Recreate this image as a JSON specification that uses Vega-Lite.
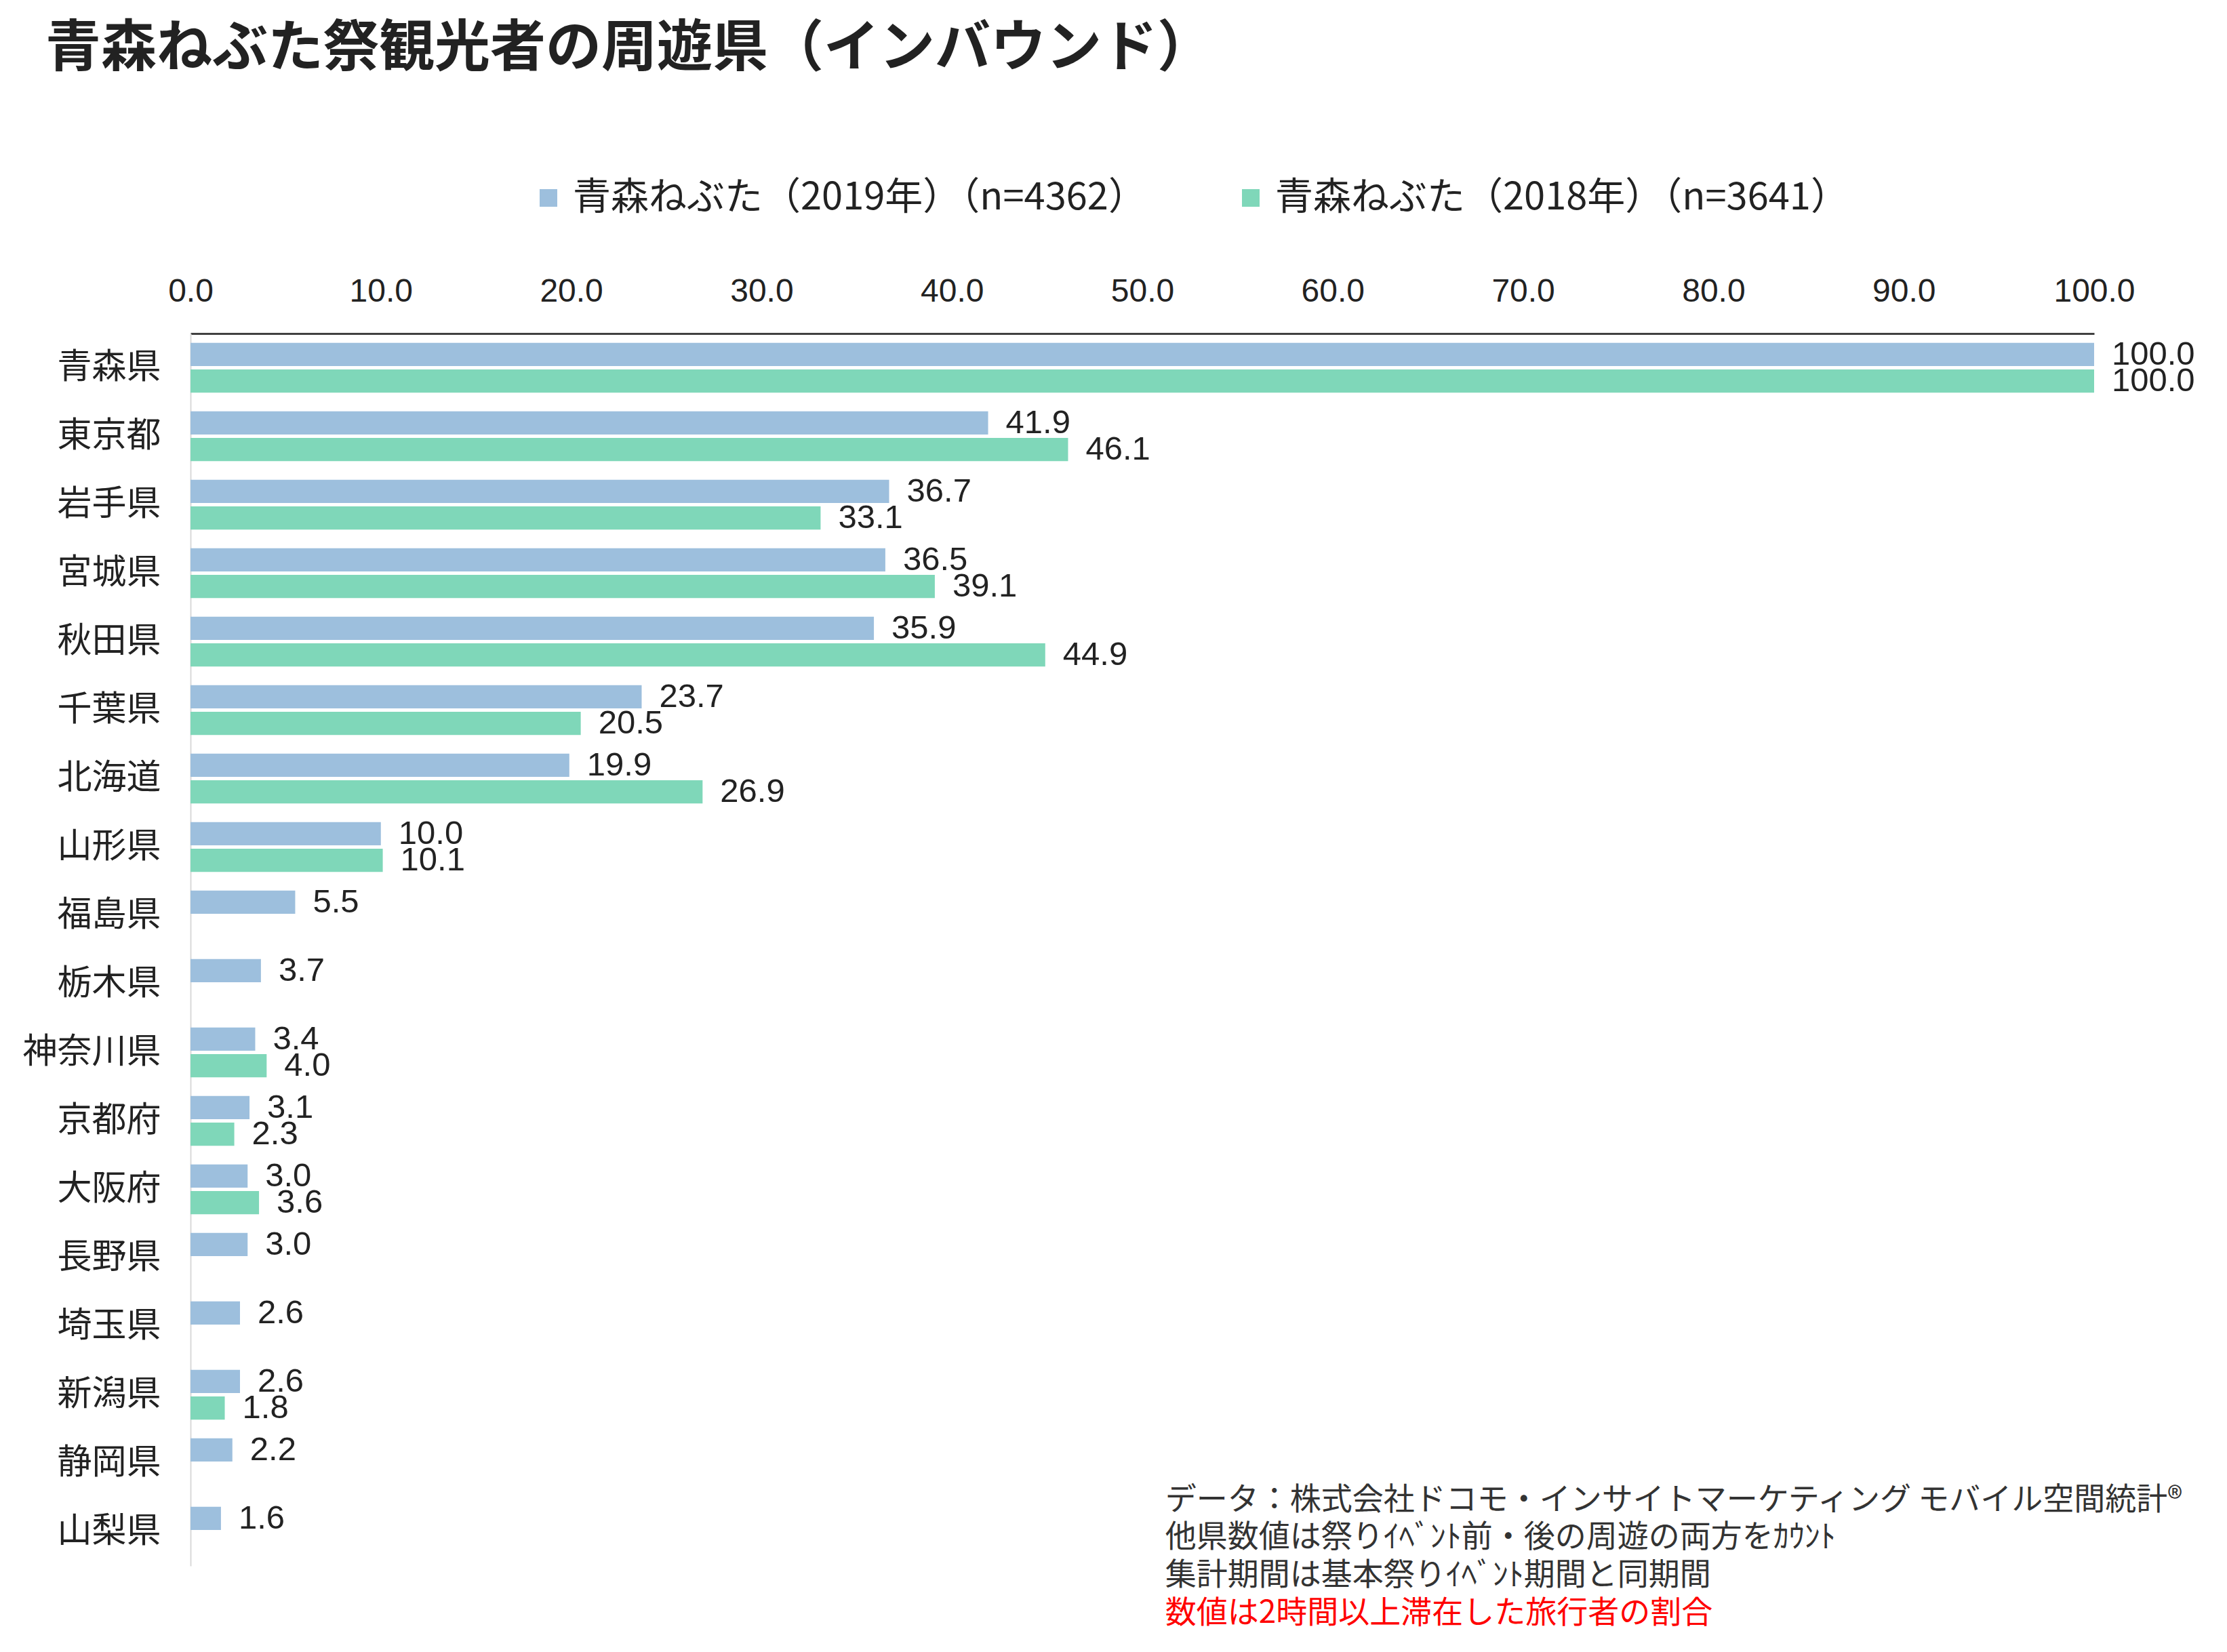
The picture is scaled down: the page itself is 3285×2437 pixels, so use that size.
{
  "$schema": "https://vega.github.io/schema/vega-lite/v6.json",
  "autosize": {"type": "none"},
  "width": 2808,
  "height": 1818,
  "padding": {"left": 281, "top": 492, "right": 196, "bottom": 127},
  "background": "white",
  "title": {
    "text": "青森ねぶた祭観光者の周遊県（インバウンド）",
    "anchor": "start",
    "frame": "group",
    "dx": -214,
    "offset": 150,
    "font": "Noto Sans CJK JP",
    "fontSize": 82,
    "fontWeight": "bold",
    "color": "#222222"
  },
  "config": {"view": {"stroke": null}, "axis": {"grid": false}},
  "datasets": {
    "bars": [
      {"pref": "青森県", "series": "青森ねぶた（2019年）（n=4362）", "value": 100.0},
      {"pref": "青森県", "series": "青森ねぶた（2018年）（n=3641）", "value": 100.0},
      {"pref": "東京都", "series": "青森ねぶた（2019年）（n=4362）", "value": 41.9},
      {"pref": "東京都", "series": "青森ねぶた（2018年）（n=3641）", "value": 46.1},
      {"pref": "岩手県", "series": "青森ねぶた（2019年）（n=4362）", "value": 36.7},
      {"pref": "岩手県", "series": "青森ねぶた（2018年）（n=3641）", "value": 33.1},
      {"pref": "宮城県", "series": "青森ねぶた（2019年）（n=4362）", "value": 36.5},
      {"pref": "宮城県", "series": "青森ねぶた（2018年）（n=3641）", "value": 39.1},
      {"pref": "秋田県", "series": "青森ねぶた（2019年）（n=4362）", "value": 35.9},
      {"pref": "秋田県", "series": "青森ねぶた（2018年）（n=3641）", "value": 44.9},
      {"pref": "千葉県", "series": "青森ねぶた（2019年）（n=4362）", "value": 23.7},
      {"pref": "千葉県", "series": "青森ねぶた（2018年）（n=3641）", "value": 20.5},
      {"pref": "北海道", "series": "青森ねぶた（2019年）（n=4362）", "value": 19.9},
      {"pref": "北海道", "series": "青森ねぶた（2018年）（n=3641）", "value": 26.9},
      {"pref": "山形県", "series": "青森ねぶた（2019年）（n=4362）", "value": 10.0},
      {"pref": "山形県", "series": "青森ねぶた（2018年）（n=3641）", "value": 10.1},
      {"pref": "福島県", "series": "青森ねぶた（2019年）（n=4362）", "value": 5.5},
      {"pref": "栃木県", "series": "青森ねぶた（2019年）（n=4362）", "value": 3.7},
      {"pref": "神奈川県", "series": "青森ねぶた（2019年）（n=4362）", "value": 3.4},
      {"pref": "神奈川県", "series": "青森ねぶた（2018年）（n=3641）", "value": 4.0},
      {"pref": "京都府", "series": "青森ねぶた（2019年）（n=4362）", "value": 3.1},
      {"pref": "京都府", "series": "青森ねぶた（2018年）（n=3641）", "value": 2.3},
      {"pref": "大阪府", "series": "青森ねぶた（2019年）（n=4362）", "value": 3.0},
      {"pref": "大阪府", "series": "青森ねぶた（2018年）（n=3641）", "value": 3.6},
      {"pref": "長野県", "series": "青森ねぶた（2019年）（n=4362）", "value": 3.0},
      {"pref": "埼玉県", "series": "青森ねぶた（2019年）（n=4362）", "value": 2.6},
      {"pref": "新潟県", "series": "青森ねぶた（2019年）（n=4362）", "value": 2.6},
      {"pref": "新潟県", "series": "青森ねぶた（2018年）（n=3641）", "value": 1.8},
      {"pref": "静岡県", "series": "青森ねぶた（2019年）（n=4362）", "value": 2.2},
      {"pref": "山梨県", "series": "青森ねぶた（2019年）（n=4362）", "value": 1.6}
    ],
    "notesGray": [
      {"text": "データ：株式会社ドコモ・インサイトマーケティング モバイル空間統計®\n他県数値は祭りｲﾍﾞﾝﾄ前・後の周遊の両方をｶｳﾝﾄ\n集計期間は基本祭りｲﾍﾞﾝﾄ期間と同期間"}
    ],
    "notesRed": [
      {"text": "数値は2時間以上滞在した旅行者の割合"}
    ]
  },
  "layer": [
    {
      "data": {"name": "bars"},
      "mark": {"type": "bar"},
      "encoding": {
        "y": {
          "field": "pref", "type": "nominal",
          "sort": ["青森県","東京都","岩手県","宮城県","秋田県","千葉県","北海道","山形県","福島県","栃木県","神奈川県","京都府","大阪府","長野県","埼玉県","新潟県","静岡県","山梨県"],
          "scale": {"paddingInner": 0.27, "paddingOuter": 0.135},
          "axis": {
            "title": null, "ticks": false, "domainColor": "#d9d9d9", "domainWidth": 2,
            "labelFont": "Noto Sans CJK JP", "labelFontSize": 51, "labelColor": "#222222", "labelPadding": 44, "labelLimit": 1000
          }
        },
        "x": {
          "field": "value", "type": "quantitative",
          "scale": {"domain": [0, 100], "nice": false},
          "axis": {
            "orient": "top", "title": null, "values": [0,10,20,30,40,50,60,70,80,90,100], "format": ".1f",
            "ticks": false, "domainColor": "#404040", "domainWidth": 3,
            "labelFont": "Liberation Sans", "labelFontSize": 48, "labelColor": "#222222", "labelPadding": 38, "labelFlush": false
          }
        },
        "yOffset": {
          "field": "series", "type": "nominal",
          "sort": ["青森ねぶた（2019年）（n=4362）", "青森ねぶた（2018年）（n=3641）"],
          "scale": {"paddingInner": 0.13}
        },
        "color": {
          "field": "series", "type": "nominal",
          "sort": ["青森ねぶた（2019年）（n=4362）", "青森ねぶた（2018年）（n=3641）"],
          "scale": {"domain": ["青森ねぶた（2019年）（n=4362）", "青森ねぶた（2018年）（n=3641）"], "range": ["#9dbfdd", "#7fd7b9"]},
          "legend": {
            "orient": "none", "legendX": 500, "legendY": -228, "direction": "horizontal", "title": null,
            "symbolType": "square", "symbolSize": 676, "symbolStrokeWidth": 0,
            "labelFont": "Noto Sans CJK JP", "labelFontSize": 56, "labelColor": "#222222",
            "columnPadding": 126, "labelOffset": 8, "padding": 0, "labelLimit": 2000
          }
        }
      }
    },
    {
      "data": {"name": "bars"},
      "mark": {"type": "text", "dx": 26, "align": "left", "baseline": "middle", "font": "Liberation Sans", "fontSize": 49, "color": "#222222"},
      "encoding": {
        "y": {"field": "pref", "type": "nominal", "sort": ["青森県","東京都","岩手県","宮城県","秋田県","千葉県","北海道","山形県","福島県","栃木県","神奈川県","京都府","大阪府","長野県","埼玉県","新潟県","静岡県","山梨県"]},
        "x": {"field": "value", "type": "quantitative"},
        "yOffset": {"field": "series", "type": "nominal", "sort": ["青森ねぶた（2019年）（n=4362）", "青森ねぶた（2018年）（n=3641）"]},
        "text": {"field": "value", "type": "quantitative", "format": ".1f"}
      }
    },
    {
      "data": {"name": "notesGray"},
      "mark": {"type": "text", "align": "left", "baseline": "middle", "dy": -47, "lineBreak": "\n", "lineHeight": 55.5, "font": "Noto Sans CJK JP", "fontSize": 46, "color": "#333333"},
      "encoding": {
        "x": {"datum": 51.2, "type": "quantitative"},
        "y": {"datum": "山梨県", "type": "nominal"},
        "text": {"field": "text", "type": "nominal"}
      }
    },
    {
      "data": {"name": "notesRed"},
      "mark": {"type": "text", "align": "left", "baseline": "middle", "dy": 120, "font": "Noto Sans CJK JP", "fontSize": 46, "color": "#ff0000"},
      "encoding": {
        "x": {"datum": 51.2, "type": "quantitative"},
        "y": {"datum": "山梨県", "type": "nominal"},
        "text": {"field": "text", "type": "nominal"}
      }
    }
  ]
}
